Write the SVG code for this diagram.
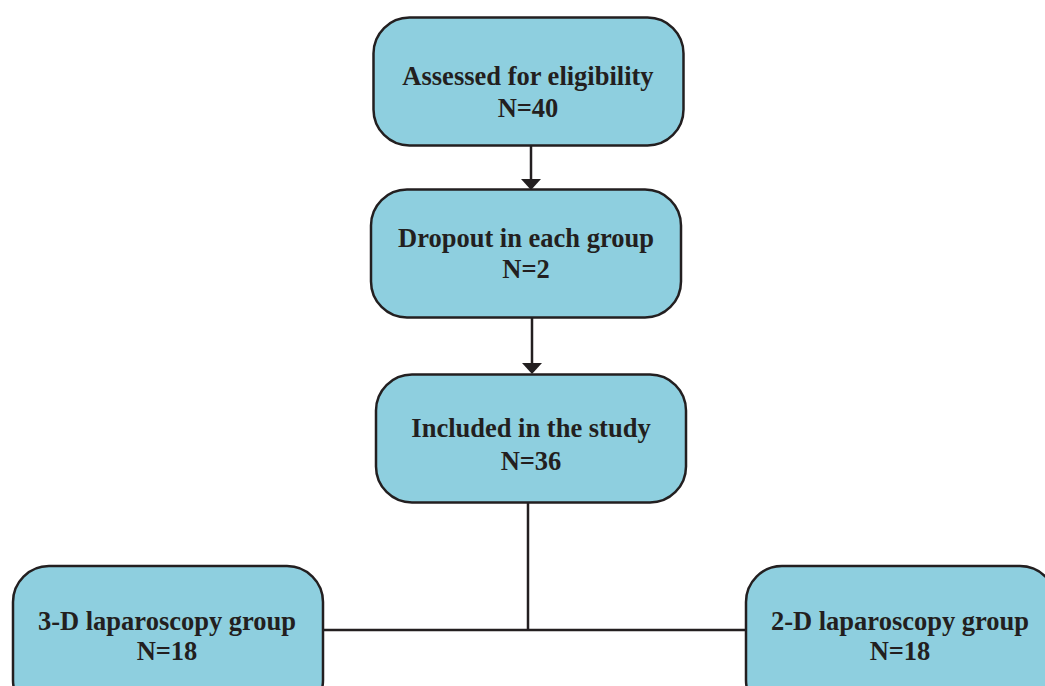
<svg xmlns="http://www.w3.org/2000/svg" width="1045" height="686" viewBox="0 0 1045 686">
<defs>
<style>
.box{fill:#8ecfdf;stroke:#231f20;stroke-width:2.5}
.t{font-family:"Liberation Serif","Times New Roman",serif;font-weight:bold;font-size:26.5px;fill:#231f20;text-anchor:middle}
.ln{stroke:#231f20;stroke-width:2.5;fill:none}
</style>
</defs>
<rect width="1045" height="686" fill="#ffffff"/>
<g id="connectors">
<line class="ln" x1="531" y1="146" x2="531" y2="180"/>
<path d="M521,179 L541,179 L531,190 z" fill="#231f20"/>
<line class="ln" x1="532" y1="318" x2="532" y2="364"/>
<path d="M522,363 L542,363 L532,374 z" fill="#231f20"/>
<line class="ln" x1="528" y1="503" x2="528" y2="630"/>
<line class="ln" x1="323" y1="630" x2="747" y2="630"/>
</g>
<g id="node-assessed">
<rect class="box" x="373.5" y="17.5" width="310" height="128" rx="36"/>
<text class="t" x="528" y="85">Assessed for eligibility</text>
<text class="t" x="528" y="117">N=40</text>
</g>
<g id="node-dropout">
<rect class="box" x="371" y="189.5" width="310" height="128" rx="36"/>
<text class="t" x="526" y="247">Dropout in each group</text>
<text class="t" x="526" y="278">N=2</text>
</g>
<g id="node-included">
<rect class="box" x="376" y="374.5" width="310" height="128" rx="36"/>
<text class="t" x="531" y="437">Included in the study</text>
<text class="t" x="531" y="470">N=36</text>
</g>
<g id="node-3d">
<rect class="box" x="13" y="566" width="310" height="150" rx="36"/>
<text class="t" x="167" y="630">3-D laparoscopy group</text>
<text class="t" x="167" y="660">N=18</text>
</g>
<g id="node-2d">
<rect class="box" x="746" y="566" width="310" height="150" rx="36"/>
<text class="t" x="900" y="630">2-D laparoscopy group</text>
<text class="t" x="900" y="660">N=18</text>
</g>
</svg>
